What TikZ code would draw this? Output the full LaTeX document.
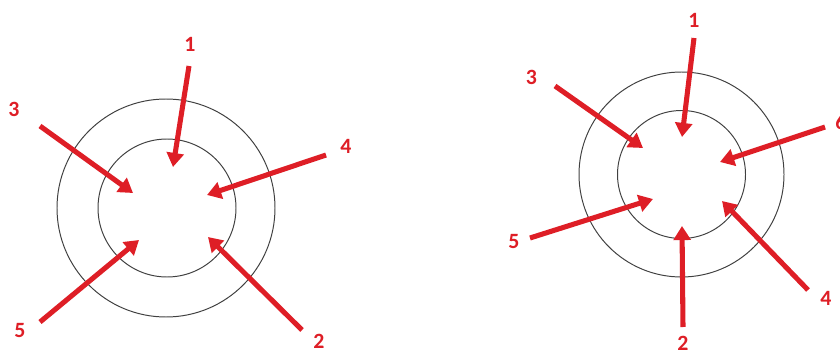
\documentclass[tikz,border=0pt]{standalone}
\usepackage{fontspec}
\setmainfont{Carlito}
\usetikzlibrary{arrows.meta}
\definecolor{arrred}{RGB}{222,30,38}
\tikzset{
  ring/.style={draw=black!75,line width=0.7pt},
  redarrow/.style={draw=arrred,line width=3.6pt,-{Triangle[length=10pt,width=12pt]}},
  numlabel/.style={text=arrred,font=\fontsize{15.5}{18}\selectfont\bfseries,inner sep=0pt}
}

\begin{document}
\begin{tikzpicture}[x=0.025cm,y=-0.025cm]
  \useasboundingbox (0,0) rectangle (840,354);
  % left ring, five arrows
  \begin{scope}
    \draw[ring] (166,208) circle (109);
    \draw[ring] (167,208) circle (69);
    \node[numlabel] (l1) at (190,44) {1};
    \node[numlabel] (l2) at (319,341) {2};
    \node[numlabel] (l3) at (14,109) {3};
    \node[numlabel] (l4) at (346,146) {4};
    \node[numlabel] (l5) at (20,331) {5};
    \coordinate (l1t) at (189,66);  \coordinate (l1h) at (173,167);
    \coordinate (l2t) at (302,330); \coordinate (l2h) at (208,237);
    \coordinate (l3t) at (40,126);  \coordinate (l3h) at (133,193);
    \coordinate (l4t) at (326,155); \coordinate (l4h) at (207,195);
    \coordinate (l5t) at (40,322);  \coordinate (l5h) at (139,240);
    \draw[redarrow] (l1t) -- (l1h);
    \draw[redarrow] (l2t) -- (l2h);
    \draw[redarrow] (l3t) -- (l3h);
    \draw[redarrow] (l4t) -- (l4h);
    \draw[redarrow] (l5t) -- (l5h);
  \end{scope}
  % right ring, six arrows
  \begin{scope}
    \draw[ring] (681.5,174.5) circle (102.5);
    \draw[ring] (681.5,174.5) circle (64);
    \node[numlabel] (r1) at (694,20) {1};
    \node[numlabel] (r2) at (683,343) {2};
    \node[numlabel] (r3) at (531.5,77) {3};
    \node[numlabel] (r4) at (826,298) {4};
    \node[numlabel] (r5) at (514,242) {5};
    \node[numlabel] (r6) at (841,122) {6};
    \coordinate (r1t) at (694,38);  \coordinate (r1h) at (682,137);
    \coordinate (r2t) at (683,327); \coordinate (r2h) at (682,226);
    \coordinate (r3t) at (555,86);  \coordinate (r3h) at (643,148);
    \coordinate (r4t) at (808,290); \coordinate (r4h) at (722,201);
    \coordinate (r5t) at (530,238); \coordinate (r5h) at (653,199);
    \coordinate (r6t) at (825,127); \coordinate (r6h) at (720,162);
    \draw[redarrow] (r1t) -- (r1h);
    \draw[redarrow] (r2t) -- (r2h);
    \draw[redarrow] (r3t) -- (r3h);
    \draw[redarrow] (r4t) -- (r4h);
    \draw[redarrow] (r5t) -- (r5h);
    \draw[redarrow] (r6t) -- (r6h);
  \end{scope}
\end{tikzpicture}
\end{document}
